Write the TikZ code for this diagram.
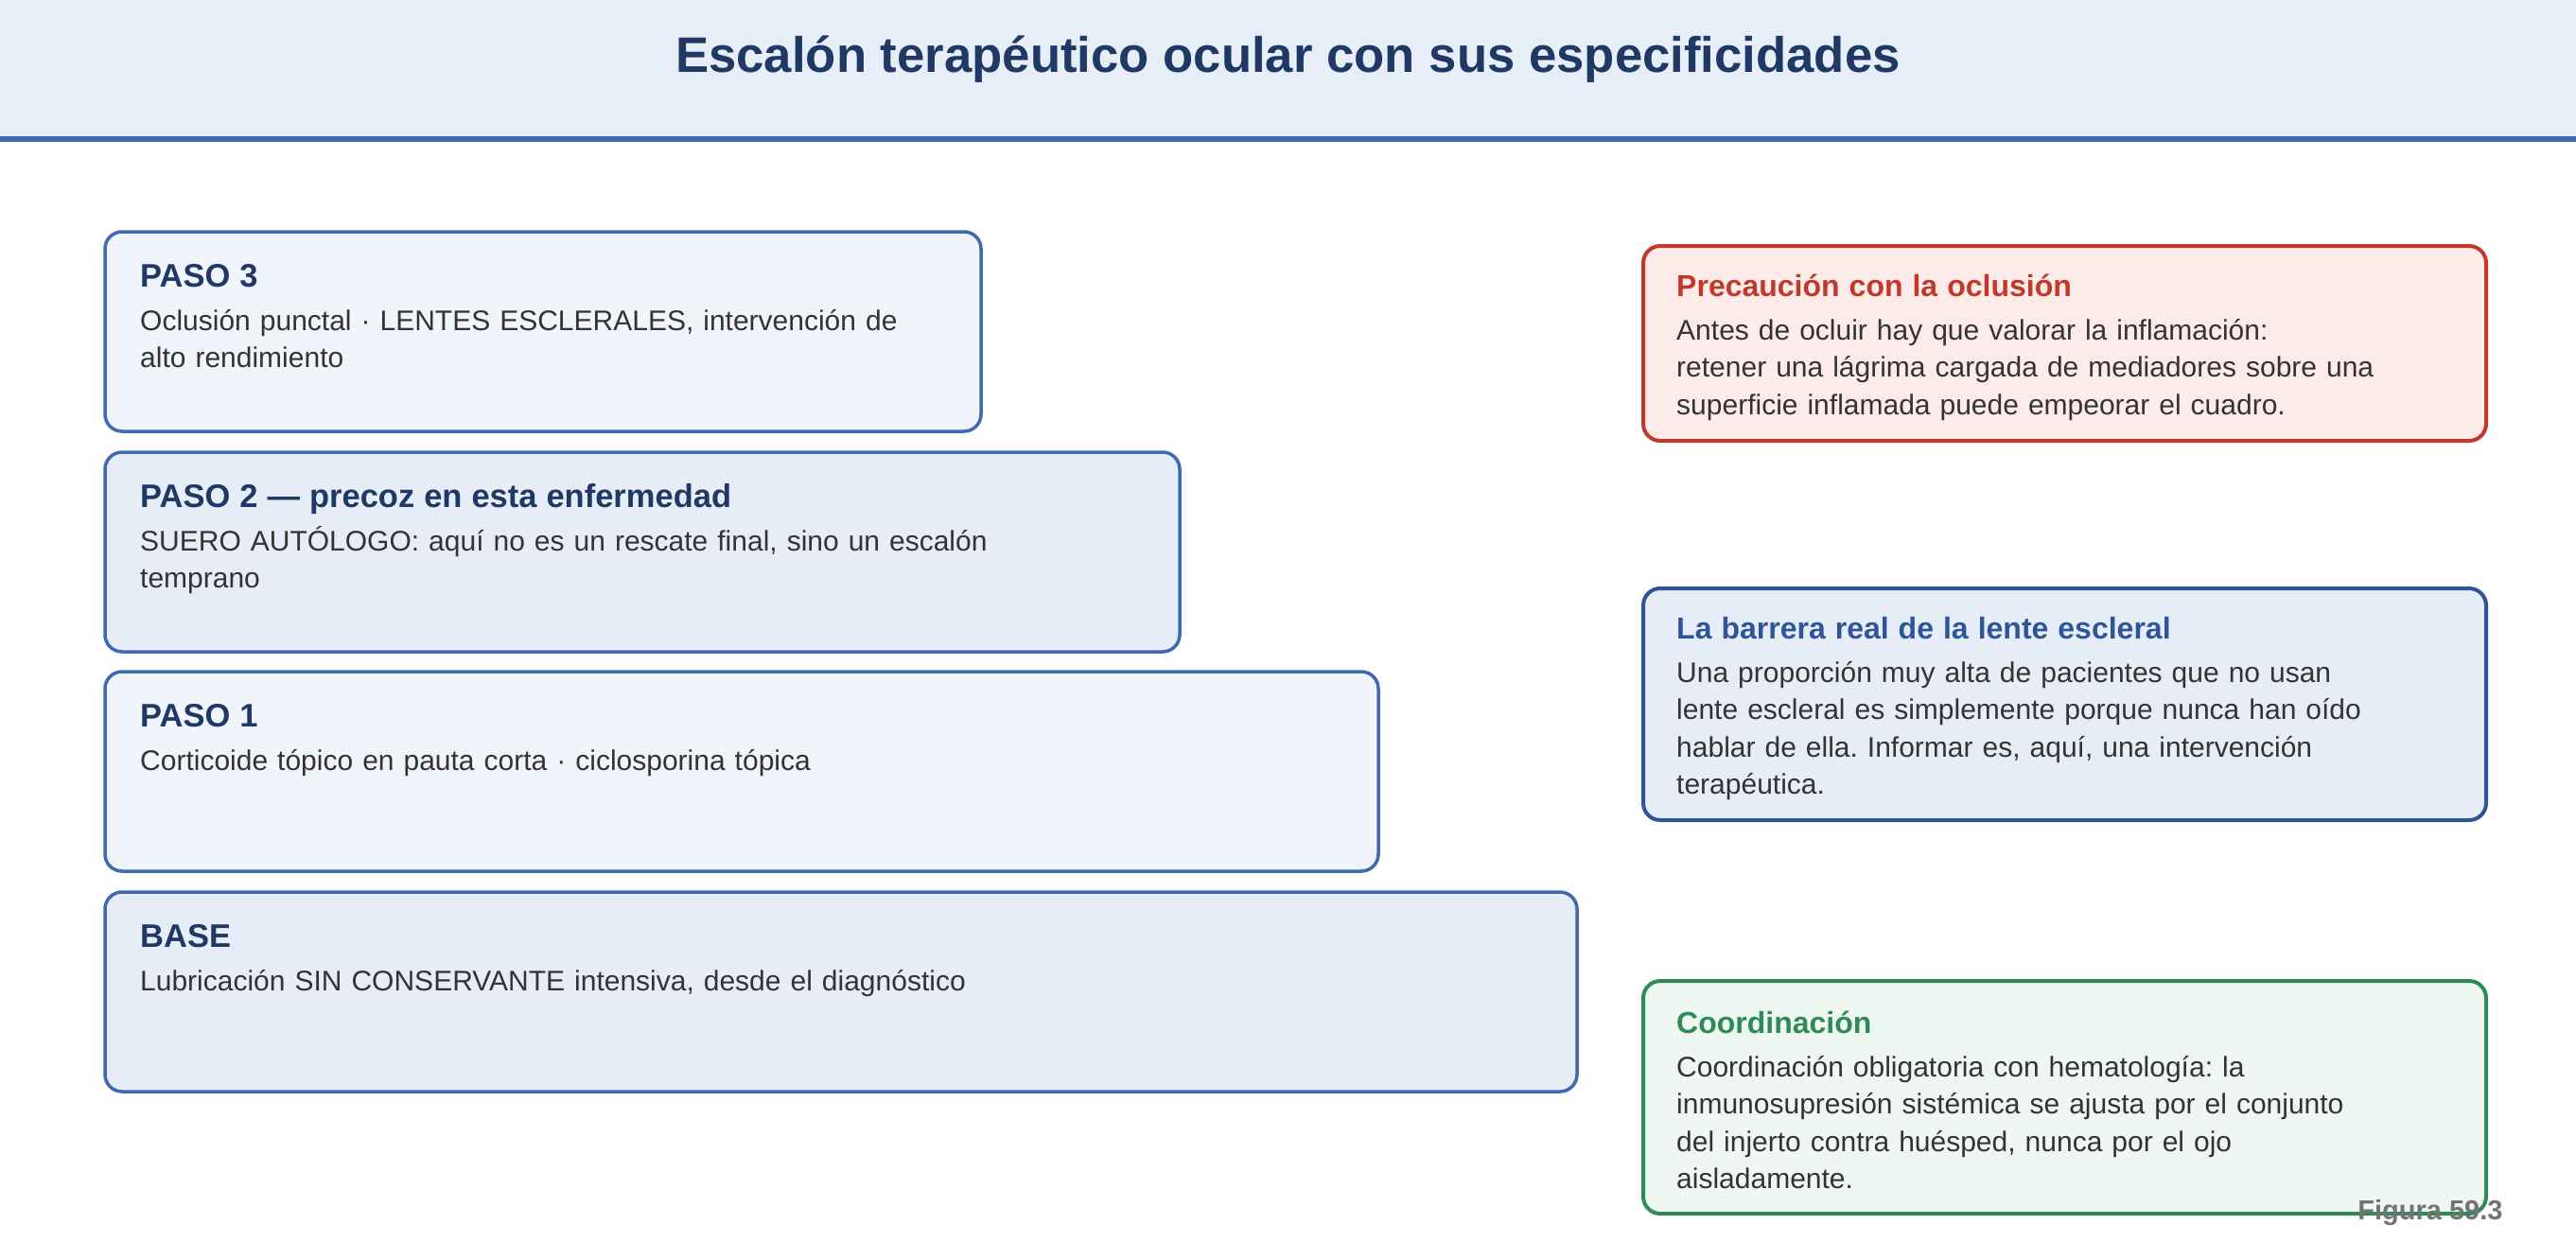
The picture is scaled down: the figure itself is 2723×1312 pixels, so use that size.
\documentclass[tikz,border=0pt]{standalone}
\usepackage{fontspec}
\setmainfont{Liberation Sans}
\usepackage{tikz}
\usetikzlibrary{positioning}
\frenchspacing

\definecolor{navy}{HTML}{1F3864}
\definecolor{headfill}{HTML}{E7EEF8}
\definecolor{stepline}{HTML}{4169AF}
\definecolor{stepA}{HTML}{F1F4FA}
\definecolor{stepB}{HTML}{E6EDF7}
\definecolor{bodygray}{HTML}{333333}
\definecolor{warnred}{HTML}{C0392B}
\definecolor{warnfill}{HTML}{FDEBEA}
\definecolor{infoblue}{HTML}{2E5597}
\definecolor{infofill}{HTML}{E6EDF7}
\definecolor{okgreen}{HTML}{2E8B57}
\definecolor{okfill}{HTML}{EEF7F2}

\tikzset{
  stepbox/.style={draw=stepline, line width=3.5pt, rounded corners=18pt,
    anchor=north west, outer sep=0pt, minimum height=211pt},
  notebox/.style={line width=4pt, rounded corners=18pt, anchor=north west,
    outer sep=0pt, minimum width=891pt},
  boxtext/.style={anchor=north west, inner sep=0pt, text width=1450pt,
    align=left, text=bodygray, font=\fontsize{30}{39.5}\selectfont},
}
\newcommand{\boxhead}[3]{{\color{#1}\fontsize{#2}{39.5}\selectfont\bfseries\rule{0pt}{32pt}#3}\\[6.5pt]}

\begin{document}
\begin{tikzpicture}[x=1pt,y=1pt]
        \useasboundingbox (0,0) rectangle (2723,-1312);
        % header band
        \fill[headfill] (0,0) rectangle (2723,-145);
        \draw[stepline, line width=6pt] (0,-147) -- (2723,-147);
        \node[anchor=base, text=navy, font=\fontsize{52.7}{60}\selectfont\bfseries] (title) at (1361.5,-76)
          {Escalón terapéutico ocular con sus especificidades};
        % steps, top to bottom
        \begin{scope}[every node/.append style={stepbox}]
          \node[fill=stepA, minimum width=926pt] (paso3) at (111,-245) {};
          \node[fill=stepB, minimum width=1136pt] (paso2) at (111,-478) {};
          \node[fill=stepA, minimum width=1346pt] (paso1) at (111,-710) {};
          \node[fill=stepB, minimum width=1556pt] (base) at (111,-943) {};
        \end{scope}
        \node[boxtext, below right=26pt and 37pt of paso3.north west] (paso3text)
          {\boxhead{navy}{34.5}{PASO 3}Oclusión punctal · LENTES ESCLERALES, intervención de\\alto rendimiento};
        \node[boxtext, below right=26pt and 37pt of paso2.north west] (paso2text)
          {\boxhead{navy}{34.5}{PASO 2 — precoz en esta enfermedad}SUERO AUTÓLOGO: aquí no es un rescate final, sino un escalón\\temprano};
        \node[boxtext, below right=26pt and 37pt of paso1.north west] (paso1text)
          {\boxhead{navy}{34.5}{PASO 1}Corticoide tópico en pauta corta · ciclosporina tópica};
        \node[boxtext, below right=26pt and 37pt of base.north west] (basetext)
          {\boxhead{navy}{34.5}{BASE}Lubricación SIN CONSERVANTE intensiva, desde el diagnóstico};
        % side notes
        \node[notebox, draw=warnred, fill=warnfill, minimum height=206pt] (occl) at (1737,-260) {};
        \node[notebox, draw=infoblue, fill=infofill, minimum height=245pt] (lens) at (1737,-622) {};
        \node[notebox, draw=okgreen, fill=okfill, minimum height=246pt] (coord) at (1737,-1037) {};
        \node[boxtext, below right=21pt and 35pt of occl.north west] (occltext)
          {\boxhead{warnred}{32}{Precaución con la oclusión}Antes de ocluir hay que valorar la inflamación:\\retener una lágrima cargada de mediadores sobre una\\superficie inflamada puede empeorar el cuadro.};
        \node[boxtext, below right=21pt and 35pt of lens.north west] (lenstext)
          {\boxhead{infoblue}{32}{La barrera real de la lente escleral}Una proporción muy alta de pacientes que no usan\\lente escleral es simplemente porque nunca han oído\\hablar de ella. Informar es, aquí, una intervención\\terapéutica.};
        \node[boxtext, below right=23pt and 35pt of coord.north west] (coordtext)
          {\boxhead{okgreen}{32}{Coordinación}Coordinación obligatoria con hematología: la\\inmunosupresión sistémica se ajusta por el conjunto\\del injerto contra huésped, nunca por el ojo\\aisladamente.};
        %\node[anchor=base east] at (2649,-1289) {};
        \node[anchor=base east, text=black!55, font=\fontsize{29}{30}\selectfont\bfseries] (fig) at (2649,-1289) {Figura 59.3};
      \end{tikzpicture}
\end{document}
